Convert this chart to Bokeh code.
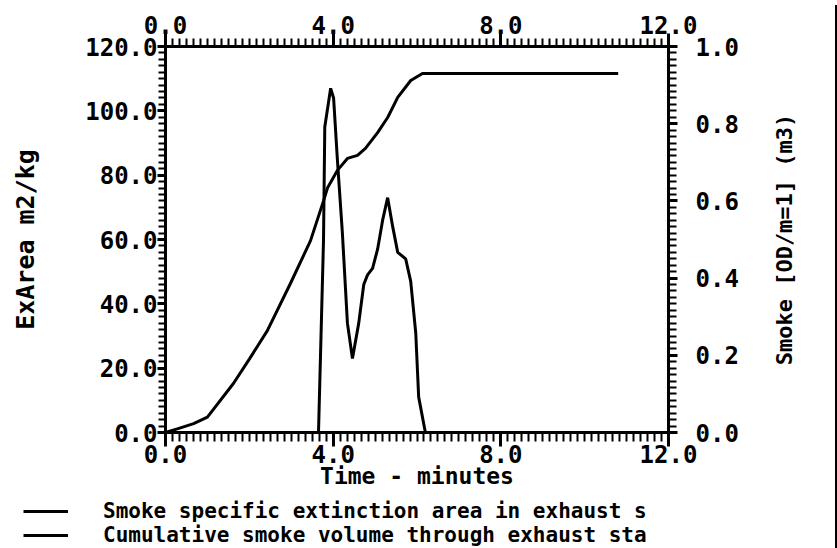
from bokeh.plotting import figure
from bokeh.models import (Range1d, LinearAxis, SingleIntervalTicker, PrintfTickFormatter,
                          FixedTicker, Legend, LegendItem, Div)
from bokeh.layouts import row, column
from bokeh.embed import file_html
from bokeh.resources import INLINE

# ---- data ----
time_exarea = [0.0, 3.65, 3.77, 3.80, 3.94, 4.01, 4.10, 4.22, 4.34, 4.46, 4.61, 4.73,
               4.82, 4.94, 5.06, 5.18, 5.30, 5.42, 5.54, 5.73, 5.85, 5.97, 6.04, 6.20, 10.8]
exarea = [0, 0, 60, 95, 107, 104, 85, 62, 34, 23, 34, 46,
          49, 51, 57, 66, 73, 64, 56, 54, 47, 31, 11, 0, 0]

time_smoke = [0.0, 0.3, 0.67, 1.0, 1.62, 2.0, 2.43, 2.98, 3.46, 3.77, 3.87, 4.10,
              4.34, 4.58, 4.77, 5.06, 5.30, 5.54, 5.85, 6.13, 10.8]
smoke = [0.0, 0.01, 0.023, 0.04, 0.127, 0.19, 0.264, 0.386, 0.497, 0.60, 0.635, 0.679,
         0.71, 0.718, 0.736, 0.777, 0.816, 0.868, 0.912, 0.930, 0.930]

x_label = "Time - minutes"
y_label = "ExArea m2/kg"
y2_label = "Smoke [OD/m=1] (m3)"
legend_labels = ["Smoke specific extinction area in exhaust s",
                 "Cumulative smoke volume through exhaust sta"]

FONT = "DejaVu Sans Mono"


def bare(fig):
    fig.grid.visible = False
    fig.outline_line_color = None
    fig.background_fill_color = "white"
    fig.border_fill_color = "white"
    fig.frame_align = False


p = figure(width=750, height=496, output_backend="svg", toolbar_location=None,
           x_range=Range1d(0, 12), y_range=Range1d(0, 120),
           min_border_left=165, min_border_right=82, min_border_top=46,
           min_border_bottom=64, x_axis_location=None, y_axis_location=None)
p.extra_y_ranges = {"smoke": Range1d(0, 1)}
bare(p)


def style(ax, tick_out, minor_out, standoff, size, label_size, label_standoff):
    ax.axis_line_width = 3
    ax.axis_line_color = "black"
    ax.major_tick_line_width = 3
    ax.major_tick_line_color = "black"
    ax.minor_tick_line_width = 2
    ax.minor_tick_line_color = "black"
    ax.major_tick_in = 0
    ax.major_tick_out = tick_out
    ax.minor_tick_in = 0
    ax.minor_tick_out = minor_out
    ax.major_label_standoff = standoff
    ax.major_label_text_font = FONT
    ax.major_label_text_font_style = "bold"
    ax.major_label_text_font_size = size
    ax.major_label_text_color = "black"
    ax.axis_label_text_font = FONT
    ax.axis_label_text_font_style = "bold"
    ax.axis_label_text_font_size = label_size
    ax.axis_label_text_color = "black"
    ax.axis_label_standoff = label_standoff


fmt = "%.1f"
bottom = LinearAxis(ticker=SingleIntervalTicker(interval=4, num_minor_ticks=24),
                    formatter=PrintfTickFormatter(format=fmt), axis_label=x_label)
style(bottom, 14, 9, -2, "24px", "23px", -3)
p.add_layout(bottom, "below")

top = LinearAxis(ticker=SingleIntervalTicker(interval=4, num_minor_ticks=24),
                 formatter=PrintfTickFormatter(format=fmt))
style(top, 13, 8, 0, "24px", "22px", 0)
p.add_layout(top, "above")

left = LinearAxis(ticker=SingleIntervalTicker(interval=20, num_minor_ticks=10),
                  formatter=PrintfTickFormatter(format=fmt), axis_label=y_label)
style(left, 8, 7, 0, "24px", "25px", 42)
p.add_layout(left, "left")

right = LinearAxis(y_range_name="smoke",
                   ticker=SingleIntervalTicker(interval=0.2, num_minor_ticks=12),
                   formatter=PrintfTickFormatter(format=fmt))
style(right, 9, 8, 18, "24px", "22px", 0)
p.add_layout(right, "right")

p.line(time_exarea, exarea, line_width=3, line_color="black")
p.line(time_smoke, smoke, y_range_name="smoke", line_width=3, line_color="black")

# strip right of the chart carrying the right-hand axis title (reads bottom to top)
side = figure(width=80, height=496, output_backend="svg", toolbar_location=None,
              x_range=Range1d(0, 1), y_range=Range1d(0, 1),
              min_border_left=46, min_border_right=0, min_border_top=46,
              min_border_bottom=64, x_axis_location=None, y_axis_location=None)
bare(side)
side_axis = LinearAxis(ticker=FixedTicker(ticks=[]), axis_label=y2_label)
style(side_axis, 0, 0, 0, "1px", "22px", 0)
side_axis.axis_line_color = None
side.add_layout(side_axis, "left")

# legend strip under the chart (its own ranges keep the series out of view)
lg = figure(width=830, height=52, output_backend="svg", toolbar_location=None,
            x_range=Range1d(0, 12), y_range=Range1d(1000, 1001),
            min_border_left=0, min_border_right=0, min_border_top=0, min_border_bottom=0,
            x_axis_location=None, y_axis_location=None)
bare(lg)
k1 = lg.line(time_exarea, exarea, line_width=3, line_color="black")
k2 = lg.line(time_smoke, smoke, line_width=3, line_color="black")
legend = Legend(items=[LegendItem(label=legend_labels[0], renderers=[k1]),
                       LegendItem(label=legend_labels[1], renderers=[k2])],
                location=(23, 1), glyph_width=45, glyph_height=20,
                label_height=20, label_standoff=35, spacing=0, padding=0, margin=0,
                border_line_color=None, background_fill_alpha=0,
                label_text_font=FONT, label_text_font_style="bold",
                label_text_font_size="21px", label_text_color="black")
lg.add_layout(legend, "center")

edge = Div(width=3, height=548, styles={"background-color": "black"})

layout = row(column(row(p, side), lg), edge)
open("out.html", "w").write(file_html(layout, INLINE))
